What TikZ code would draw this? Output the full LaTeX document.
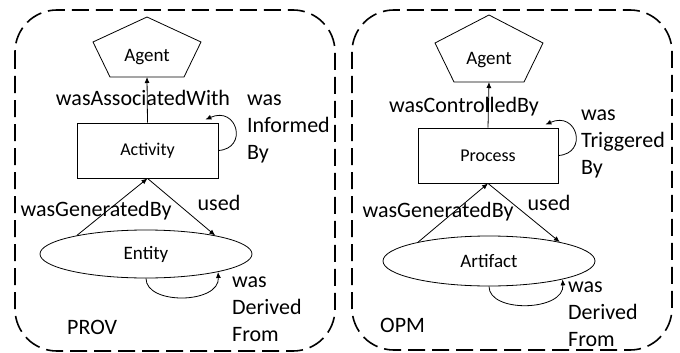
\documentclass[tikz,border=0pt]{standalone}
\usepackage{fontspec}
\setmainfont{Carlito}
\usetikzlibrary{arrows.meta,shapes.geometric,calc}

\begin{document}
\begin{tikzpicture}[x=1pt,y=-1pt,
  lbl/.style={font=\fontsize{22}{27}\selectfont, inner sep=0pt},
  stack/.style={lbl, align=left, anchor=west},
  frame/.style={draw, line width=1.6pt, dash pattern=on 17pt off 7pt, rounded corners=42pt},
  boxnode/.style={draw, line width=0.8pt, minimum width=141pt, minimum height=55pt,
    font=\fontsize{18}{21}\selectfont},
  ellnode/.style={draw, ellipse, line width=0.8pt, inner sep=0pt, minimum width=212pt,
    font=\fontsize{19}{22}\selectfont},
  agentlbl/.style={inner sep=0pt, font=\fontsize{19}{22}\selectfont},
  pent/.style={line width=0.8pt},
  rel/.style={line width=0.8pt, -{Latex[length=6pt,width=5pt]}},
]
\useasboundingbox[fill=white] (0,0) rectangle (680,353);

% the two dashed panels
\draw[frame] (15,10) rectangle (335,351);
\draw[frame] (352,10) rectangle (672,350);

% ---------------- PROV ----------------
\node[agentlbl] (ag1) at (147,57) {Agent};
\draw[pent] ($(ag1)+(0,-40)$) -- ($(ag1)+(54,-15)$) -- ($(ag1)+(37,20)$)
  -- ($(ag1)+(-37,20)$) -- ($(ag1)+(-54,-15)$) -- cycle;
\coordinate (ag1b) at ($(ag1)+(0,20)$);

\node[boxnode] (act) at (147.5,150.5) {Activity};
\draw[rel] (act.north) -- (ag1b);
\node[lbl] at (143,98) {wasAssociatedWith};
\draw[rel] (act.east) .. controls +(30,-2) and +(32,-14) .. ($(act.north east)+(-13,-3)$);
\node[stack] at (247,129) {was\\Informed\\By};

\node[ellnode, minimum height=48pt] (ent) at (146,254) {Entity};
\draw[rel] (ent.165) -- (act.south);
\draw[rel] (act.south) -- (ent.15);
\node[lbl] at (96,211) {wasGeneratedBy};
\node[lbl] at (219,203) {used};
\draw[rel] (ent.south) .. controls +(0,27) and +(2,32) .. (ent.-14);
\node[stack] at (232,309) {was\\Derived\\From};
\node[lbl, anchor=west] at (67,327) {PROV};

% ---------------- OPM ----------------
\node[agentlbl] (ag2) at (489,60) {Agent};
\draw[pent] ($(ag2)+(0,-45)$) -- ($(ag2)+(54,-17)$) -- ($(ag2)+(35,22)$)
  -- ($(ag2)+(-35,22)$) -- ($(ag2)+(-54,-17)$) -- cycle;
\coordinate (ag2b) at ($(ag2)+(0,22)$);

\node[boxnode, minimum width=140pt] (proc) at (488,155.5) {Process};
\draw[rel] (proc.north) -- (ag2b);
\node[lbl] at (464,107) {wasControlledBy};
\draw[rel] (proc.east) .. controls +(30,-2) and +(32,-14) .. ($(proc.north east)+(-13,-3)$);
\node[stack] at (581,144) {was\\Triggered\\By};

\node[ellnode, minimum height=50pt] (art) at (489,261) {Artifact};
\draw[rel] (art.165) -- (proc.south);
\draw[rel] (proc.south) -- (art.15);
\node[lbl] at (438,212) {wasGeneratedBy};
\node[lbl] at (549,203) {used};
\draw[rel] (art.south) .. controls +(0,27) and +(2,32) .. (art.-14);
\node[stack] at (568,314) {was\\Derived\\From};
\node[lbl, anchor=west] at (380,325) {OPM};
\end{tikzpicture}
\end{document}
